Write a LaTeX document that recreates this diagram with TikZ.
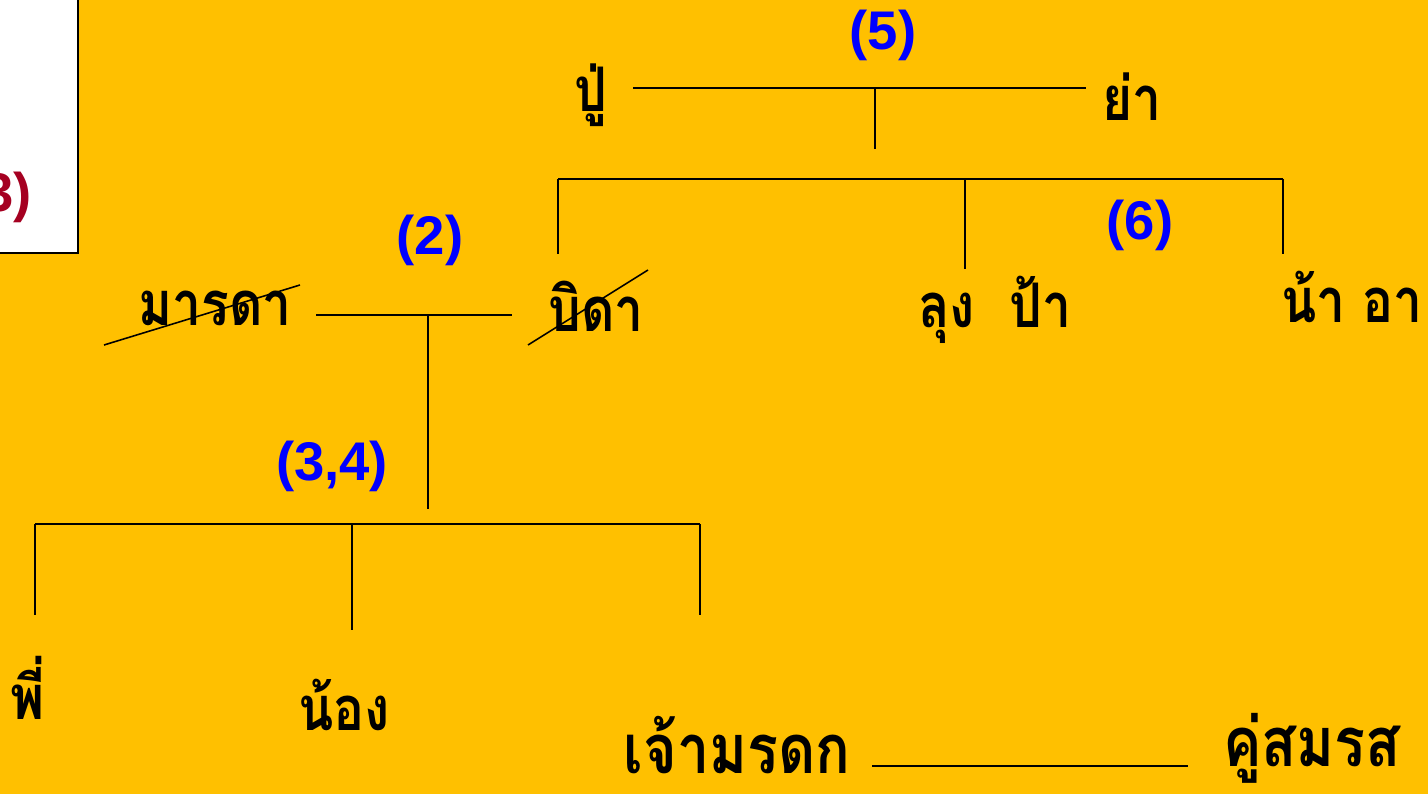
\documentclass[tikz,border=0pt]{standalone}
\usepackage{fontspec}
\setmainfont{Liberation Sans}
\newfontfamily\thaifont[Script=Thai, FakeStretch=0.84]{Loma}
\definecolor{bgyellow}{HTML}{FFC000}
\definecolor{numblue}{HTML}{0000FF}
\definecolor{numred}{HTML}{A50021}
\tikzstyle{person} = [font=\thaifont\bfseries\fontsize{35}{40}\selectfont, text=black, inner sep=0pt]
\tikzstyle{heir} = [person, font=\thaifont\bfseries\fontsize{39}{44}\selectfont]
\tikzstyle{num} = [font=\bfseries\fontsize{31}{36}\selectfont, text=numblue, inner sep=0pt]
\tikzstyle{link} = [line width=0.9pt, -]

\begin{document}
\begin{tikzpicture}[x=0.02cm, y=-0.02cm]
  \fill[bgyellow] (0,0) rectangle (1428,794);
  \useasboundingbox (0,0) rectangle (1428,794);
  \draw[fill=white, line width=1.1pt] (-10,-10) rectangle (78,253);
  \node (ref) [num, text=numred, anchor=east] at (32,197) {(3)};
  % grandparents
  \node (pu) [person] at (591,95) {ปู่};
  \node (ya) [person] at (1132,97) {ย่า};
  \node (n5) [num] at (883,35) {(5)};
  \coordinate (gpl) at (633,88);
  \coordinate (gpr) at (1086,88);
  \coordinate (gpm) at (875,88);
  \coordinate (gpd) at (875,149);
  \draw [link] (gpl) -- (gpr);
  \draw [link] (gpm) -- (gpd);
  % uncles and aunts
  \coordinate (ual) at (558,179);
  \coordinate (uam) at (965,179);
  \coordinate (uar) at (1283,179);
  \draw [link] (ual) -- (uar);
  \draw [link] (ual) -- (558,254);
  \draw [link] (uam) -- (965,269);
  \draw [link] (uar) -- (1283,254);
  \node (n6) [num] at (1140,225) {(6)};
  \node (lung) [person] at (995,310) {ลุง\ \ ป้า};
  \node (na) [person] at (1352,297) {น้า อา};
  % parents
  \node (mom) [person] at (215,308) {มารดา};
  \node (dad) [person] at (596,306) {บิดา};
  \draw [link] (104,345) -- (300,285);
  \draw [link] (528,345) -- (648,270);
  \node (n2) [num] at (430,240) {(2)};
  \coordinate (pl) at (316,315);
  \coordinate (pr) at (512,315);
  \coordinate (pm) at (428,315);
  \coordinate (pd) at (428,509);
  \draw [link] (pl) -- (pr);
  \draw [link] (pm) -- (pd);
  % siblings
  \node (n34) [num] at (332,466) {(3,4)};
  \coordinate (sl) at (35,524);
  \coordinate (sm) at (352,524);
  \coordinate (sr) at (700,524);
  \draw [link] (sl) -- (sr);
  \draw [link] (sl) -- (35,615);
  \draw [link] (sm) -- (352,630);
  \draw [link] (sr) -- (700,615);
  \node (pi) [person] at (28,688) {พี่};
  \node (nong) [person] at (344,705) {น้อง};
  \node (heir) [heir] at (737,745) {เจ้ามรดก};
  \node (spouse) [heir] at (1312,748) {คู่สมรส};
  \coordinate (ml) at (872,766);
  \coordinate (mr) at (1188,766);
  \draw [link] (ml) -- (mr);
\end{tikzpicture}
\end{document}
